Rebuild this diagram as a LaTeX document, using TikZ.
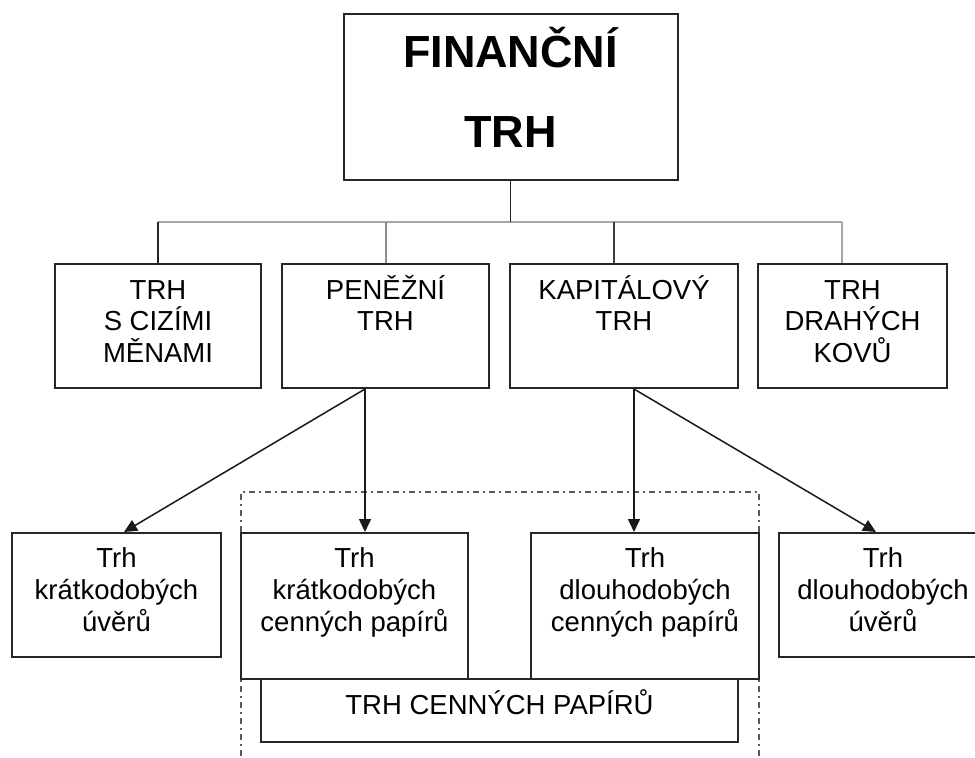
\documentclass[tikz,border=0pt]{standalone}
\usepackage{fontspec}
\setmainfont{Liberation Sans}
\usetikzlibrary{arrows.meta}
\begin{document}
\begin{tikzpicture}[x=1pt,y=-1pt,
  box/.style={draw=black!85, line width=2pt, inner sep=0pt, fill=white},
  lbl/.style={anchor=base, align=center, inner sep=0pt, font=\fontsize{27.5}{31.5}\selectfont},
  lblb/.style={lbl, font=\fontsize{27.5}{32}\selectfont},
  title/.style={anchor=base, align=center, inner sep=0pt, font=\fontsize{45}{80}\selectfont\bfseries},
  darkline/.style={draw=black!85, line width=1.7pt},
  busline/.style={draw=black!35, line width=1.8pt},
  greyline/.style={draw=black!45, line width=1.7pt},
  arr/.style={draw=black!90, line width=1.5pt, -{Triangle[length=13pt,width=12pt]}},
  dashdot/.style={draw=black!65, line width=1.3pt, dash pattern=on 6pt off 4pt on 2pt off 4pt}
]
\path[use as bounding box, clip] (0,0) rectangle (975,758);

% group frame (dash-dot)
\node[dashdot, inner sep=0pt, minimum width=518, minimum height=290] (grp) at (500,637) {};

% top box
\node[box, minimum width=334, minimum height=166] (fin) at (510.5,97) {};
\node[title] (fint) at (510.5,147) {FINANČNÍ\\TRH};

% second row
\node[box, minimum width=206, minimum height=124] (r1) at (158,326) {};
\node[box, minimum width=207, minimum height=124] (r2) at (385.5,326) {};
\node[box, minimum width=228, minimum height=124] (r3) at (624,326) {};
\node[box, minimum width=189, minimum height=124] (r4) at (852.5,326) {};
\node[lbl] (r1t) at (158,362) {TRH\\S CIZÍMI\\MĚNAMI};
\node[lbl] (r2t) at (385.5,330.5) {PENĚŽNÍ\\TRH};
\node[lbl] (r3t) at (624,330.5) {KAPITÁLOVÝ\\TRH};
\node[lbl] (r4t) at (852.5,362) {TRH\\DRAHÝCH\\KOVŮ};

% bus
\coordinate (d1) at (158,222);
\coordinate (d2) at (386,222);
\coordinate (d3) at (614,222);
\coordinate (d4) at (842,222);
\draw[busline] (d1) -- (d4);
\draw[darkline] (fin.south) -- (fin.south |- d1);
\draw[darkline] (d1) -- (r1.north -| d1);
\draw[greyline] (d2) -- (r2.north -| d2);
\draw[darkline, draw=black!75] (d3) -- (r3.north -| d3);
\draw[busline] (d4) -- (r4.north -| d4);

% bottom row
\node[box, minimum width=477, minimum height=63] (bE) at (499.5,710.5) {};
\node[lbl] (bEt) at (499.5,714) {TRH CENNÝCH PAPÍRŮ};
\node[box, minimum width=209, minimum height=124] (bA) at (116.5,595) {};
\node[box, minimum width=227, minimum height=146] (bB) at (354.5,606) {};
\node[box, minimum width=228, minimum height=146] (bC) at (645,606) {};
\node[box, minimum width=208, minimum height=124] (bD) at (883,595) {};
\node[lblb] (bAt) at (116.5,631) {Trh\\krátkodobých\\úvěrů};
\node[lblb] (bBt) at (354.5,631) {Trh\\krátkodobých\\cenných papírů};
\node[lblb] (bCt) at (645,631) {Trh\\dlouhodobých\\cenných papírů};
\node[lblb] (bDt) at (883,631) {Trh\\dlouhodobých\\úvěrů};

% arrows
\draw[arr] ([xshift=-20.5]r2.south) -- ([xshift=7.5]bA.north);
\draw[arr] ([xshift=-20.5]r2.south) -- ([xshift=-20.5]r2.south |- bB.north);
\draw[arr] ([xshift=10]r3.south) -- ([xshift=10]r3.south |- bC.north);
\draw[arr] ([xshift=10]r3.south) -- ([xshift=-7]bD.north);
\end{tikzpicture}
\end{document}
